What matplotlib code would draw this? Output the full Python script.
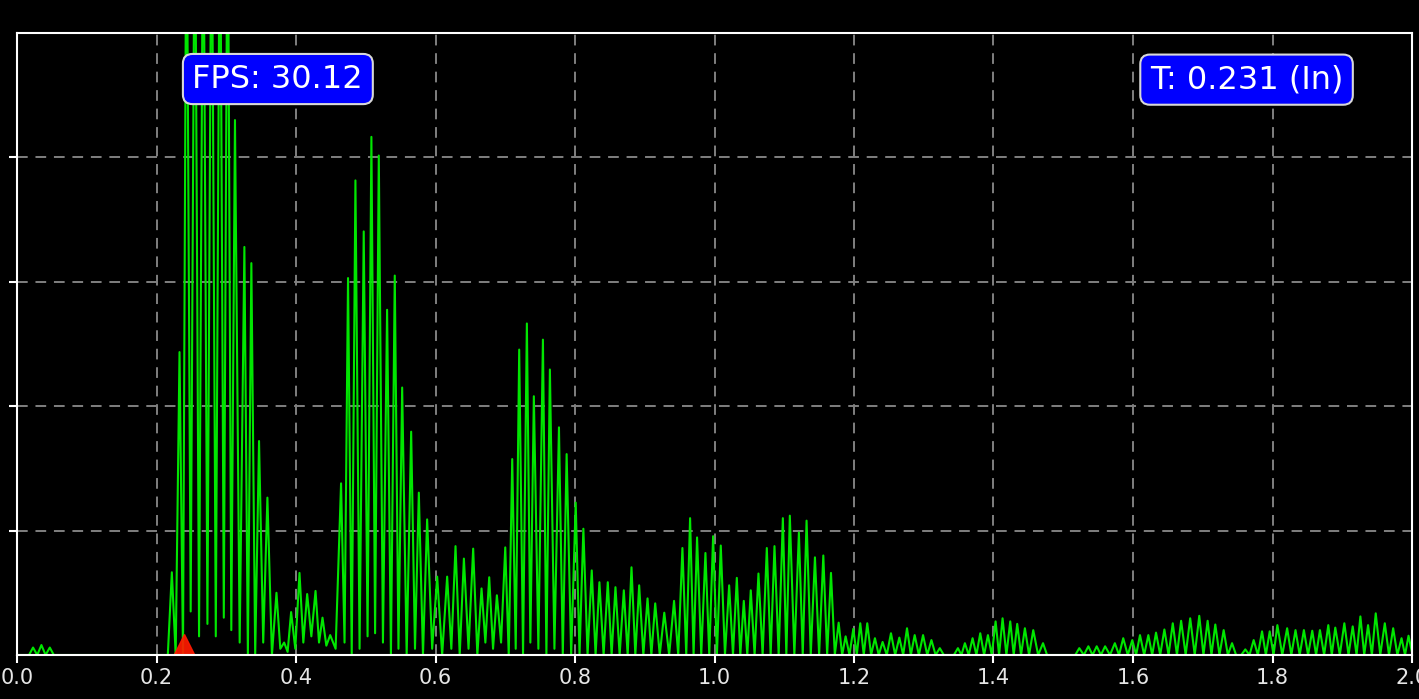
import matplotlib
matplotlib.use("Agg")
import matplotlib.pyplot as plt

# ---------------- data ----------------
x_ticks = [0.0, 0.2, 0.4, 0.6, 0.8, 1.0, 1.2, 1.4, 1.6, 1.8, 2.0]
x_tick_labels = ["0.0", "0.2", "0.4", "0.6", "0.8", "1.0", "1.2", "1.4", "1.6", "1.8", "2.0"]
y_ticks = [0.2, 0.4, 0.6, 0.8]

fps_label = "FPS: 30.12"
threshold_label = "T: 0.231 (In)"
trigger_x = 0.2395

# segment 1: tiny bumps near the start
seg1_x = [0.023, 0.035, 0.047]
seg1_peak = [0.012, 0.016, 0.012]
seg1_trough = [0.0, 0.0, 0.0]

# segment 2: main bursts 0.21 .. 1.33
seg2_x = [0.222, 0.233, 0.243, 0.255, 0.267, 0.279, 0.291, 0.302, 0.3125, 0.326,
          0.336, 0.347, 0.359, 0.372, 0.383, 0.393, 0.405, 0.416, 0.428, 0.438,
          0.449, 0.4646, 0.4746, 0.4852, 0.4971, 0.5081, 0.5187, 0.5306, 0.5416, 0.5522,
          0.5651, 0.5761, 0.588, 0.6024, 0.6167, 0.6287, 0.6407, 0.654, 0.666, 0.677,
          0.688, 0.700, 0.710, 0.720, 0.731, 0.741, 0.754, 0.764, 0.777, 0.788,
          0.801, 0.812, 0.824, 0.835, 0.847, 0.858, 0.870, 0.881, 0.892, 0.904,
          0.915, 0.928, 0.942, 0.954, 0.965, 0.975, 0.987, 0.998, 1.009, 1.021,
          1.032, 1.042, 1.052, 1.063, 1.075, 1.086, 1.098, 1.108, 1.121, 1.132,
          1.144, 1.156, 1.167, 1.178, 1.188, 1.199, 1.209, 1.219, 1.230, 1.241,
          1.253, 1.265, 1.276, 1.287, 1.299, 1.311, 1.323]
seg2_peak = [0.133, 0.487, 1.3, 1.3, 1.3, 1.3, 1.3, 1.3, 0.86, 0.656,
             0.63, 0.344, 0.253, 0.10, 0.02, 0.069, 0.132, 0.098, 0.103, 0.06,
             0.032, 0.276, 0.606, 0.763, 0.681, 0.833, 0.803, 0.555, 0.61, 0.43,
             0.359, 0.261, 0.218, 0.126, 0.126, 0.175, 0.155, 0.171, 0.107, 0.125,
             0.096, 0.173, 0.315, 0.491, 0.533, 0.416, 0.507, 0.459, 0.366, 0.323,
             0.245, 0.203, 0.136, 0.117, 0.117, 0.109, 0.104, 0.141, 0.112, 0.091,
             0.083, 0.068, 0.087, 0.172, 0.22, 0.189, 0.164, 0.191, 0.176, 0.112,
             0.124, 0.087, 0.104, 0.131, 0.172, 0.175, 0.22, 0.224, 0.197, 0.216,
             0.157, 0.16, 0.132, 0.052, 0.03, 0.042, 0.051, 0.051, 0.027, 0.021,
             0.035, 0.028, 0.043, 0.032, 0.032, 0.024, 0.011]
seg2_trough = [0.0, 0.0, 0.07, 0.03, 0.05, 0.03, 0.06, 0.04, 0.02, 0.0,
               0.0, 0.02, 0.0, 0.01, 0.005, 0.01, 0.02, 0.03, 0.02, 0.015,
               0.01, 0.02, 0.0, 0.01, 0.03, 0.035, 0.02, 0.0, 0.01, 0.0,
               0.01, 0.0, 0.01, 0.0, 0.01, 0.0, 0.01, 0.0, 0.02, 0.01,
               0.02, 0.0, 0.01, 0.0, 0.02, 0.01, 0.0, 0.01, 0.0, 0.0,
               0.0, 0.0, 0.0, 0.0, 0.0, 0.0, 0.0, 0.0, 0.0, 0.0,
               0.0, 0.0, 0.0, 0.0, 0.0, 0.0, 0.0, 0.0, 0.0, 0.0,
               0.0, 0.0, 0.0, 0.0, 0.0, 0.0, 0.0, 0.0, 0.0, 0.0,
               0.0, 0.0, 0.0, 0.0, 0.0, 0.0, 0.0, 0.0, 0.0, 0.0,
               0.0, 0.0, 0.0, 0.0, 0.0, 0.0, 0.0]

# segment 3: small packet around 1.4
seg3_x = [1.349, 1.359, 1.370, 1.381, 1.392, 1.403, 1.413, 1.424, 1.434, 1.445, 1.457, 1.471]
seg3_peak = [0.011, 0.019, 0.027, 0.035, 0.032, 0.054, 0.059, 0.054, 0.05, 0.043, 0.04, 0.019]
seg3_trough = [0.0] * 12

# segment 4: packet around 1.65
seg4_x = [1.523, 1.536, 1.548, 1.560, 1.574, 1.586, 1.599, 1.610, 1.622, 1.633,
          1.645, 1.657, 1.669, 1.682, 1.695, 1.707, 1.718, 1.730, 1.742]
seg4_peak = [0.011, 0.014, 0.014, 0.014, 0.019, 0.027, 0.024, 0.032, 0.032, 0.036,
             0.041, 0.051, 0.055, 0.059, 0.063, 0.055, 0.049, 0.04, 0.019]
seg4_trough = [0.0] * 19

# segment 5: tail 1.76 .. 2.0
seg5_x = [1.761, 1.773, 1.785, 1.796, 1.807, 1.821, 1.833, 1.845, 1.857, 1.868,
          1.880, 1.890, 1.903, 1.915, 1.926, 1.937, 1.948, 1.961, 1.973, 1.985, 1.995]
seg5_peak = [0.009, 0.024, 0.038, 0.038, 0.048, 0.043, 0.04, 0.04, 0.039, 0.04,
             0.048, 0.044, 0.051, 0.046, 0.062, 0.048, 0.067, 0.051, 0.043, 0.027, 0.031]
seg5_trough = [0.0] * 21

segments = [(seg1_x, seg1_peak, seg1_trough),
            (seg2_x, seg2_peak, seg2_trough),
            (seg3_x, seg3_peak, seg3_trough),
            (seg4_x, seg4_peak, seg4_trough),
            (seg5_x, seg5_peak, seg5_trough)]

# ---------------- build the zig-zag trace ----------------
half = 0.0058
trace_x = [0.0]
trace_y = [0.0]
for xs, ps, ts in segments:
    trace_x.append(xs[0] - half)
    trace_y.append(0.0)
    for i in range(len(xs)):
        trace_x.append(xs[i])
        trace_y.append(ps[i])
        if i < len(xs) - 1:
            trace_x.append((xs[i] + xs[i + 1]) / 2)
            trace_y.append(ts[i])
    trace_x.append(xs[-1] + half)
    trace_y.append(0.0)

# ---------------- figure ----------------
W, H = 1419, 699
fig = plt.figure(figsize=(W / 100, H / 100), dpi=100, facecolor="black")
ax = fig.add_axes([17 / W, 1 - 655 / H, 1395 / W, 622 / H])
ax.set_facecolor("black")

ax.plot(trace_x, trace_y, color="#00e600", lw=1.5, zorder=3, solid_joinstyle="round")
ax.plot([trigger_x], [0.0], marker="^", color="#ff1a00", markersize=30,
        linestyle="none", zorder=3.5, alpha=0.92)

ax.set_xlim(0, 2.0)
ax.set_ylim(0, 1.0)
ax.set_xticks(x_ticks)
ax.set_xticklabels(x_tick_labels)
ax.set_yticks(y_ticks)
ax.tick_params(axis="y", labelleft=False)
ax.tick_params(colors="white", labelcolor="#e6e6e6", labelsize=15,
               length=6, width=1.5)
for sp in ax.spines.values():
    sp.set_color("white")
    sp.set_linewidth(1.5)
    sp.set_zorder(4)

ax.grid(True, color="#808080", linestyle=(0, (5.5, 4)), linewidth=1.4, zorder=1)
ax.set_axisbelow(True)

box = dict(boxstyle="round,pad=0.3", fc="#0000ff", ec="#d8d8d8", lw=1.5)
ax.text(0.187, 0.926, fps_label, transform=ax.transAxes, ha="center", va="center",
        fontsize=23, color="white", bbox=box, zorder=6)
ax.text(0.8814, 0.925, threshold_label, transform=ax.transAxes, ha="center", va="center",
        fontsize=23, color="white", bbox=box, zorder=6)

fig.savefig("out.png", dpi=100, facecolor="black")
